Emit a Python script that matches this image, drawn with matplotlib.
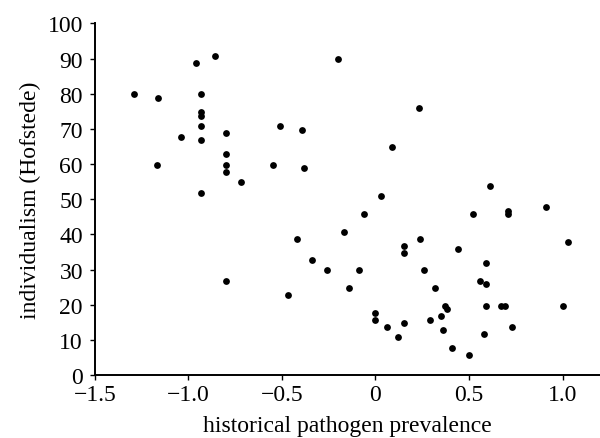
import matplotlib
matplotlib.use("Agg")
import matplotlib.pyplot as plt

# historical pathogen prevalence vs individualism (Hofstede)
pathogen = [
    -1.29, -1.16, -1.17, -1.04, -0.96, -0.86, -0.93, -0.93, -0.93, -0.93,
    -0.93, -0.93, -0.80, -0.80, -0.80, -0.80, -0.72, -0.55, -0.51, -0.80,
    -0.47, -0.42,
    -0.20, 0.23, -0.39, 0.09, -0.38, 0.61, 0.03, -0.06, 0.52, 0.71, 0.71, 0.91,
    -0.17, 0.15, 0.15, 0.24, 0.44, 1.03, -0.34, -0.26, -0.09, 0.26, 0.59,
    -0.14, 0.32, 0.56, 0.59, 0.00, 0.00, 0.37, 0.38, 0.35, 0.59, 0.67, 0.69,
    1.00, 0.29, 0.15, 0.06, 0.36, 0.73, 0.12, 0.58, 0.41, 0.50,
]
individualism = [
    80.0, 78.8, 59.8, 67.7, 88.8, 90.8, 80.0, 74.9, 73.8, 70.9,
    66.9, 51.9, 68.8, 62.9, 59.8, 57.7, 54.9, 59.8, 70.9, 26.7,
    22.8, 38.7,
    89.9, 76.1, 69.7, 64.9, 58.9, 53.8, 50.9, 45.8, 45.8, 46.7, 45.8, 47.8,
    40.7, 36.7, 34.7, 38.7, 35.8, 37.9, 32.7, 30.0, 30.0, 30.0, 31.9,
    24.8, 24.8, 26.7, 26.0, 17.6, 15.6, 19.6, 18.8, 16.8, 19.6, 19.6, 19.6,
    19.6, 15.6, 14.8, 13.7, 12.8, 13.7, 10.8, 11.7, 7.7, 5.7,
]

x_ticks = [-1.5, -1.0, -0.5, 0, 0.5, 1.0]
x_tick_labels = ["\u22121.5", "\u22121.0", "\u22120.5", "0", "0.5", "1.0"]
y_ticks = list(range(0, 101, 10))

plt.rcParams["font.family"] = ["Liberation Serif", "DejaVu Serif"]

fig = plt.figure(figsize=(6.0, 4.39), dpi=100)
ax = fig.add_axes([0.158, 0.1435, 0.842, 0.8007])

ax.scatter(pathogen, individualism, s=24, color="black", linewidths=0)

ax.set_xlim(-1.5, 1.2)
ax.set_ylim(0, 100)
ax.set_xticks(x_ticks)
ax.set_xticklabels(x_tick_labels)
ax.set_yticks(y_ticks)

for side in ("top", "right"):
    ax.spines[side].set_visible(False)
for side in ("left", "bottom"):
    ax.spines[side].set_linewidth(1.4)

ax.tick_params(axis="both", direction="out", length=3.5, width=1.0,
               labelsize=17)
ax.tick_params(axis="y", pad=5)
ax.tick_params(axis="x", pad=3)

ax.set_xlabel("historical pathogen prevalence", fontsize=17, labelpad=7)
ax.set_ylabel("individualism (Hofstede)", fontsize=17, labelpad=5)

fig.savefig("out.png", dpi=100)
